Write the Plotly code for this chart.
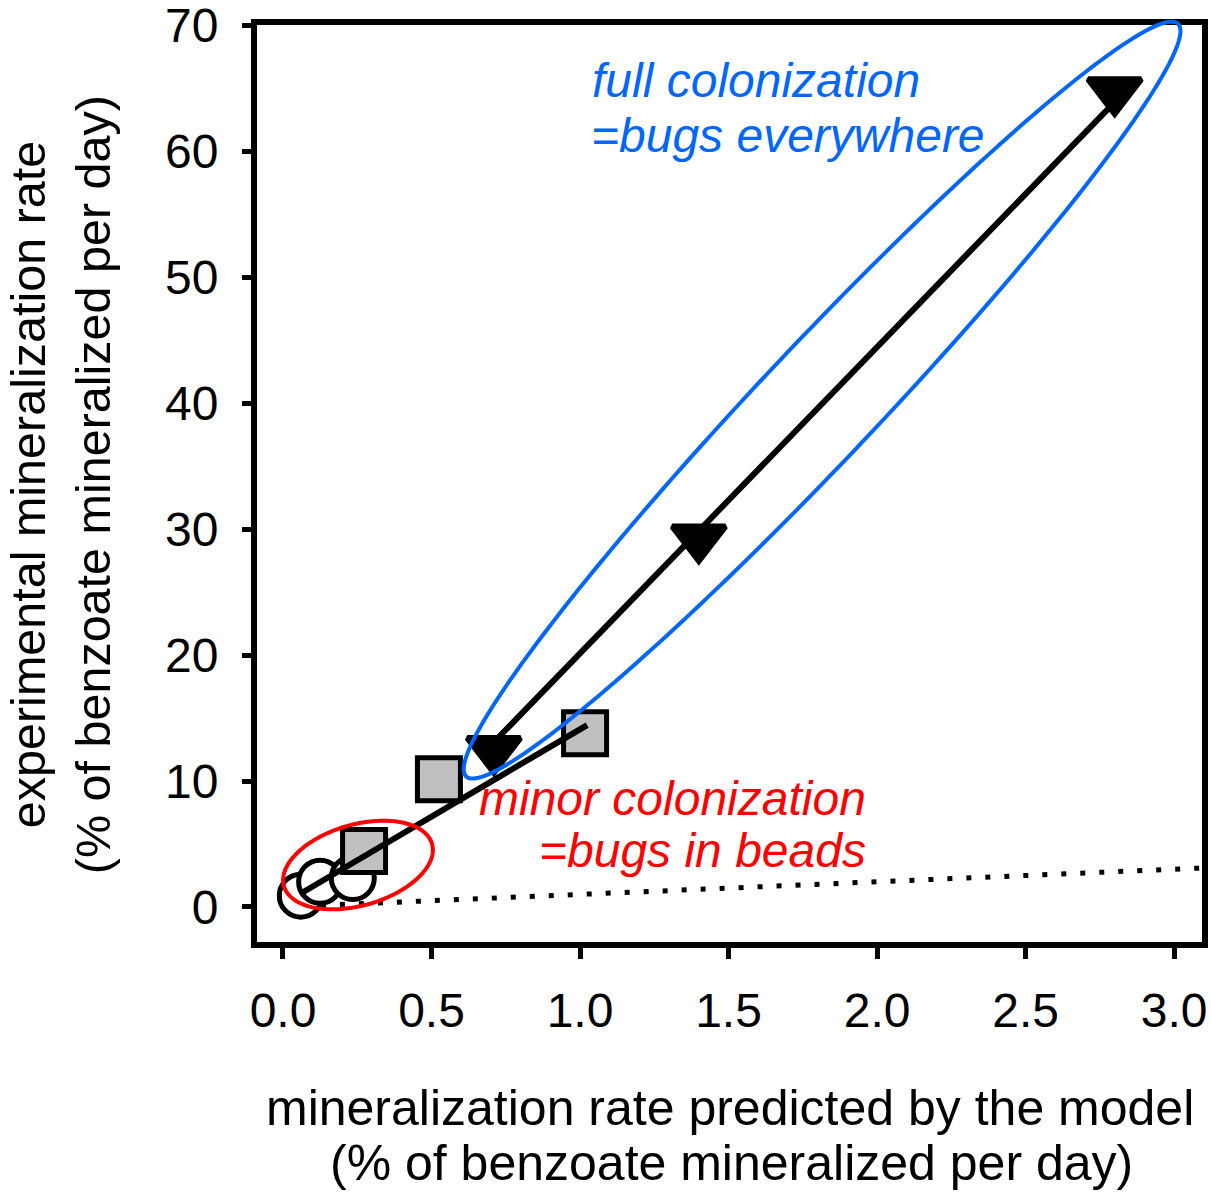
import math
import plotly.graph_objects as go

# ---- data -------------------------------------------------------------
# open circles
circle_x = [0.06, 0.125, 0.235]
circle_y = [0.9, 2.0, 2.3]
# grey squares
square_x = [0.273, 0.525, 1.017]
square_y = [4.45, 10.15, 13.8]
# black down-triangles
tri_x = [0.71, 1.40, 2.80]
tri_y = [12.5, 29.3, 64.8]
# fitted lines through the low-rate and the high-rate groups
fit_low_x = [0.057, 1.024]
fit_low_y = [1.03, 14.44]
fit_high_x = [0.69, 2.80]
fit_high_y = [12.6, 63.9]
# 1:1 line (experiment = model)
one_to_one_x = [0.0, 3.2]
one_to_one_y = [0.0, 3.2]

x_tick_vals = [0.0, 0.5, 1.0, 1.5, 2.0, 2.5, 3.0]
x_tick_text = ["0.0", "0.5", "1.0", "1.5", "2.0", "2.5", "3.0"]
y_tick_vals = [0, 10, 20, 30, 40, 50, 60, 70]
y_tick_text = ["0", "10", "20", "30", "40", "50", "60", "70"]

# ---- geometry helpers -------------------------------------------------
W, H = 1211, 1193
L, R, T, B = 257, 9, 25, 251
X_RANGE = [-0.0875, 3.094]
Y_RANGE = [-2.78, 70.02]
plot_w = W - L - R
plot_h = H - T - B

FONT = "Liberation Sans, Arial, Helvetica, sans-serif"
BLUE = "#0066FF"
RED = "#FF0000"


def paper_x(px):
    return (px - L) / plot_w


def paper_y(py):
    return (H - B - py) / plot_h


def data_to_px(x, y):
    px = L + (x - X_RANGE[0]) / (X_RANGE[1] - X_RANGE[0]) * plot_w
    py = (H - B) - (y - Y_RANGE[0]) / (Y_RANGE[1] - Y_RANGE[0]) * plot_h
    return px, py


def ellipse_path(cx, cy, a, b, angle_deg, n=200):
    """Rotated ellipse centred on a data point; semi-axes in screen pixels."""
    pcx, pcy = data_to_px(cx, cy)
    th = math.radians(angle_deg)
    pts = []
    for k in range(n):
        t = 2 * math.pi * k / n
        dx = a * math.cos(t) * math.cos(th) + b * math.sin(t) * math.sin(th)
        dy = -a * math.cos(t) * math.sin(th) + b * math.sin(t) * math.cos(th)
        pts.append((paper_x(pcx + dx), paper_y(pcy + dy)))
    return "M" + "L".join(f"{x:.5f},{y:.5f}" for x, y in pts) + "Z"


fig = go.Figure()

fig.add_trace(go.Scatter(
    x=one_to_one_x, y=one_to_one_y, mode="lines",
    line=dict(color="black", width=5, dash="5px,14px"),
    hoverinfo="skip", showlegend=False))

fig.add_trace(go.Scatter(
    x=circle_x, y=circle_y, mode="markers",
    marker=dict(symbol="circle", size=43, color="white",
                line=dict(color="black", width=5)),
    showlegend=False))

fig.add_trace(go.Scatter(
    x=square_x, y=square_y, mode="markers",
    marker=dict(symbol="square", size=43, color="#C0C0C0",
                line=dict(color="black", width=5)),
    showlegend=False))

fig.add_trace(go.Scatter(
    x=tri_x, y=tri_y, mode="markers",
    marker=dict(symbol="triangle-down", size=46, color="black",
                line=dict(color="black", width=6)),
    showlegend=False))

fig.add_trace(go.Scatter(
    x=fit_low_x, y=fit_low_y, mode="lines",
    line=dict(color="black", width=6), showlegend=False))

fig.add_trace(go.Scatter(
    x=fit_high_x, y=fit_high_y, mode="lines",
    line=dict(color="black", width=6), showlegend=False))

# outlines around the two colonisation regimes
fig.add_shape(type="path", xref="paper", yref="paper",
              path=ellipse_path(1.815, 40.24, 518, 58, 46.6),
              line=dict(color=BLUE, width=4), layer="above")
fig.add_shape(type="path", xref="paper", yref="paper",
              path=ellipse_path(0.2525, 3.33, 77, 40.5, 15.9),
              line=dict(color=RED, width=4), layer="above")

ann = []


def text(s, px, py, size, color="black", xanchor="center", angle=0):
    ann.append(dict(text=s, x=paper_x(px), y=paper_y(py), xref="paper",
                    yref="paper", xanchor=xanchor, yanchor="middle",
                    showarrow=False, textangle=angle,
                    font=dict(family=FONT, size=size, color=color)))


text("<i>full colonization</i>", 590, 80.2, 48, BLUE, "left")
text("<i>=bugs everywhere</i>", 589, 135.2, 48, BLUE, "left")
text("<i>minor colonization</i>", 868, 798.5, 48, RED, "right")
text("<i>=bugs in beads</i>", 868, 850.5, 48, RED, "right")

text("mineralization rate predicted by the model", 730, 1107.7, 50)
text("(% of benzoate mineralized per day)", 731, 1162.7, 50)
text("experimental mineralization rate", 28.2, 485, 48.5, angle=-90)
text("(% of benzoate mineralized per day)", 93.2, 485, 48.5, angle=-90)

axis_common = dict(
    showline=True, linewidth=6, linecolor="black", mirror=True,
    ticks="outside", tickcolor="black", tickwidth=5,
    showgrid=False, zeroline=False, ticklabeloverflow="allow",
    automargin=False,
    tickfont=dict(family=FONT, size=48, color="black"),
)

fig.update_layout(
    width=W, height=H,
    margin=dict(l=L, r=R, t=T, b=B, pad=0, autoexpand=False),
    paper_bgcolor="white", plot_bgcolor="white",
    showlegend=False,
    annotations=ann,
    xaxis=dict(range=X_RANGE, tickvals=x_tick_vals, ticktext=x_tick_text,
               ticklen=11, ticklabelstandoff=10, **axis_common),
    yaxis=dict(range=Y_RANGE, tickvals=y_tick_vals, ticktext=y_tick_text,
               ticklen=9, ticklabelstandoff=14, **axis_common),
)

fig.write_html("out.html")
